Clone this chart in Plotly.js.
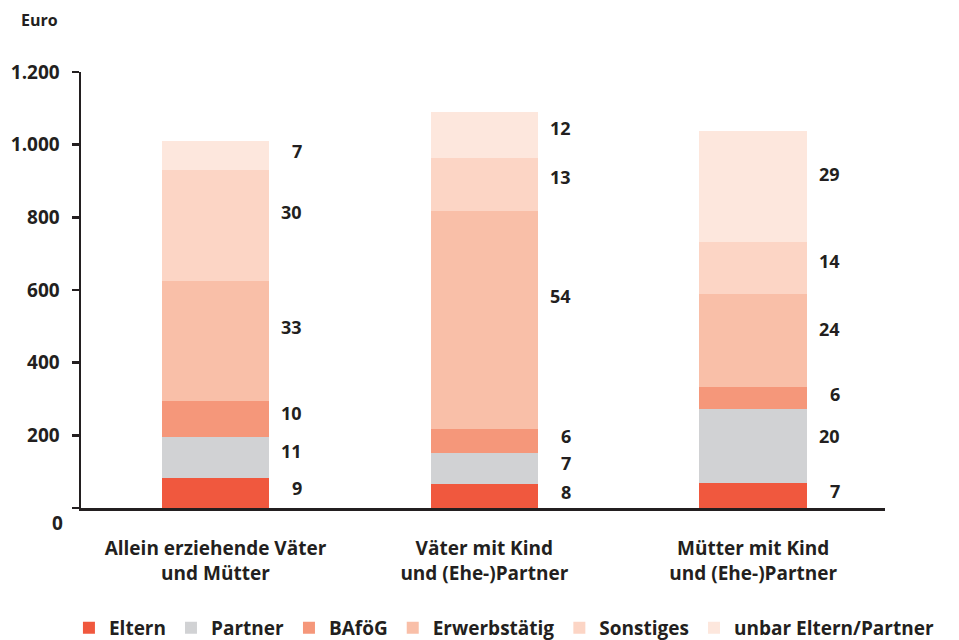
<!DOCTYPE html>
<html>
<head>
<meta charset="utf-8">
<script src="https://cdn.plot.ly/plotly-3.0.1.min.js"></script>
<style>html,body{margin:0;padding:0;background:#fff;}#chart{width:959px;height:640px;}</style>
</head>
<body>
<div id="chart"></div>
<script>
// Categories (x axis)
const categories = ["Allein erziehende Väter<br>und Mütter", "Väter mit Kind<br>und (Ehe-)Partner", "Mütter mit Kind<br>und (Ehe-)Partner"];
// Series names
const seriesNames = ["Eltern", "Partner", "BAföG", "Erwerbstätig", "Sonstiges", "unbar Eltern/Partner"];
// Euro values per series
const eltern       = [83, 66, 69];
const partner      = [113, 86, 204];
const bafoeg       = [99, 66, 61];
const erwerb       = [331, 599, 254];
const sonstiges    = [304, 146, 143];
const unbar        = [80, 127, 306];
// Percentage labels shown right of each segment
const pctEltern    = [9, 8, 7];
const pctPartner   = [11, 7, 20];
const pctBafoeg    = [10, 6, 6];
const pctErwerb    = [33, 54, 24];
const pctSonstiges = [30, 13, 14];
const pctUnbar     = [7, 12, 29];
// Y axis ticks
const yTickVals = [0, 200, 400, 600, 800, 1000, 1200];
const yTickText = ["", "200", "400", "600", "800", "1.000", "1.200"];

const colors = ["#F0583E", "#D1D2D4", "#F5977A", "#F9BFA8", "#FCD5C5", "#FDE7DD"];
const seriesVals = [eltern, partner, bafoeg, erwerb, sonstiges, unbar];
const seriesPct = [pctEltern, pctPartner, pctBafoeg, pctErwerb, pctSonstiges, pctUnbar];
const xIdx = categories.map((c, i) => i);
const FONT = "'Open Sans', 'DejaVu Sans', sans-serif";
const TXT = "#231f20";

const traces = seriesVals.map((vals, s) => ({
  type: "bar",
  name: seriesNames[s],
  x: xIdx,
  y: vals,
  width: 0.4,
  marker: {color: colors[s], line: {width: 0}},
  hoverinfo: "skip"
}));

const annotations = [];
for (let i = 0; i < xIdx.length; i++) {
  let base = 0;
  for (let s = 0; s < seriesVals.length; s++) {
    const v = seriesVals[s][i];
    annotations.push({
      x: xIdx[i] + 0.33, y: base + v * 0.6, xref: "x", yref: "y",
      text: String(seriesPct[s][i]), showarrow: false,
      xanchor: "right", yanchor: "middle", yshift: 2,
      font: {family: FONT, size: 18, color: TXT, weight: 700}
    });
    base += v;
  }
}
annotations.push({
  x: 0, y: 0, xref: "paper", yref: "y", text: "0", showarrow: false,
  xanchor: "right", yanchor: "middle", xshift: -16, yshift: -15,
  font: {family: FONT, size: 19, color: TXT, weight: 700}
});
annotations.push({
  x: -0.051, y: 1.12, xref: "paper", yref: "paper", text: "Euro", showarrow: false,
  xanchor: "center", yanchor: "middle",
  font: {family: FONT, size: 16, color: TXT, weight: 700}
});

const layout = {
  width: 959, height: 640,
  margin: {l: 81, r: 74, t: 72, b: 132, autoexpand: false},
  paper_bgcolor: "#fff", plot_bgcolor: "#fff",
  barmode: "stack",
  font: {family: FONT, color: TXT, size: 16},
  xaxis: {
    range: [-0.5, 2.49],
    tickvals: xIdx, ticktext: categories,
    showgrid: false, zeroline: false,
    showline: true, linecolor: TXT, linewidth: 2.5,
    ticks: "", ticklabelstandoff: 22,
    tickfont: {family: FONT, size: 19, color: TXT, weight: 700},
    automargin: false,
    fixedrange: true
  },
  yaxis: {
    range: [0, 1200],
    tickvals: yTickVals, ticktext: yTickText,
    showgrid: false, zeroline: false,
    showline: true, linecolor: TXT, linewidth: 2.5,
    ticks: "outside", ticklen: 7, tickwidth: 2.5, tickcolor: TXT,
    ticklabelstandoff: 8,
    tickfont: {family: FONT, size: 19, color: TXT, weight: 700},
    automargin: false,
    fixedrange: true
  },
  showlegend: true,
  legend: {
    orientation: "h", x: -0.015, xanchor: "left", y: -0.275, yanchor: "middle",
    traceorder: "normal",
    font: {family: FONT, size: 19, color: TXT, weight: 700},
    itemwidth: 30, itemsizing: "constant"
  },
  annotations: annotations
};

Plotly.newPlot("chart", traces, layout, {displayModeBar: false, staticPlot: true});
</script>
</body>
</html>
